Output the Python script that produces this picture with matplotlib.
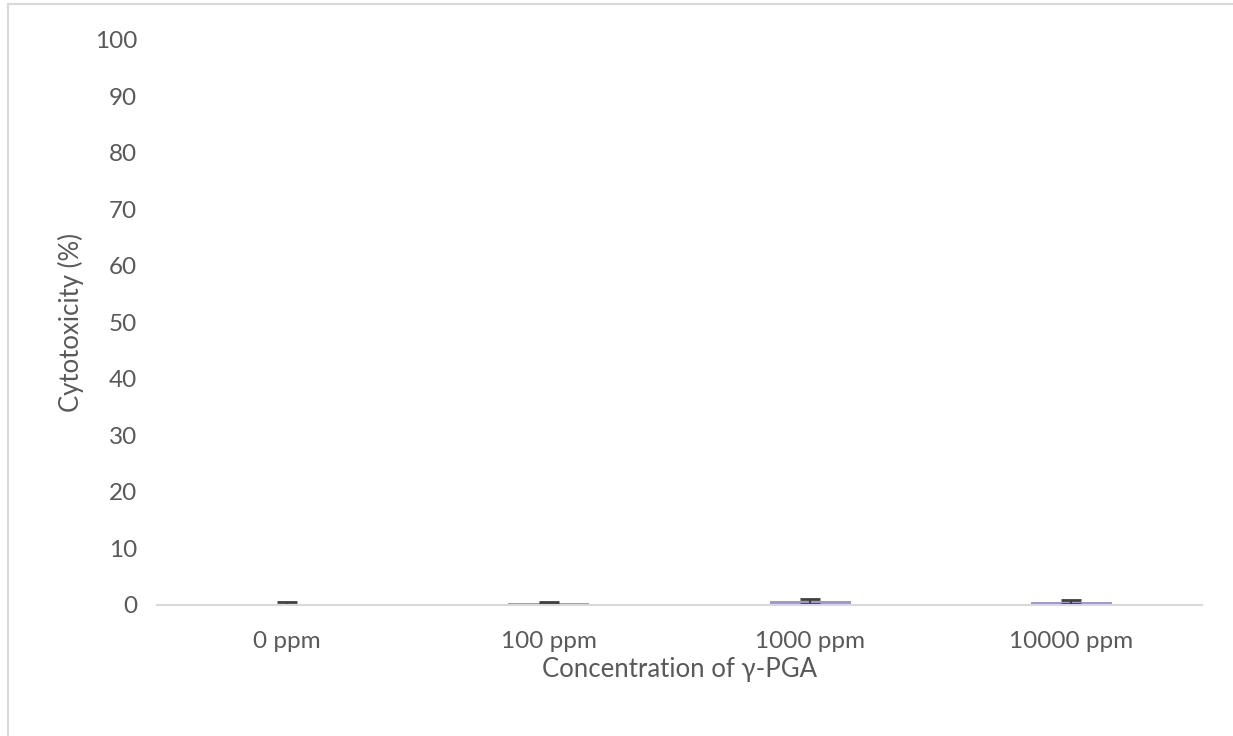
import matplotlib
matplotlib.use('Agg')
import matplotlib.pyplot as plt
from matplotlib.lines import Line2D

plt.rcParams.update({
    'font.family': ['Lato', 'DejaVu Sans'],
    'font.size': 16,
    'text.color': '#595959',
    'xtick.color': '#595959',
    'ytick.color': '#595959',
    'axes.labelcolor': '#595959',
})

categories = ['0 ppm', '100 ppm', '1000 ppm', '10000 ppm']
cytotoxicity = [0.0, 0.4, 0.65, 0.5]
errors = [0.5, 0.2, 0.45, 0.3]
yticks = [0, 10, 20, 30, 40, 50, 60, 70, 80, 90, 100]

fig = plt.figure(figsize=(12.33, 7.36), dpi=100)
ax = fig.add_axes([0.127, 0.178, 0.848, 0.768])

x = range(len(categories))
ax.bar(x, cytotoxicity, width=0.31, color='#9C98D8',
       yerr=errors, error_kw=dict(ecolor='#404040', elinewidth=1.5,
                                  capsize=7, capthick=2))

ax.set_xlim(-0.5, len(categories) - 0.5)
ax.set_ylim(0, 100)
ax.set_yticks(yticks)
ax.set_xticks(list(x))
ax.set_xticklabels(categories)
ax.tick_params(axis='both', length=0, labelsize=17.5)
ax.tick_params(axis='y', pad=14)
ax.tick_params(axis='x', pad=19)

for s in ['top', 'right', 'left']:
    ax.spines[s].set_visible(False)
ax.spines['bottom'].set_color('#d9d9d9')
ax.spines['bottom'].set_linewidth(1.5)

ax.set_xlabel('Concentration of γ-PGA', fontsize=18.5, labelpad=3)
ax.set_ylabel('Cytotoxicity (%)', fontsize=18.5, labelpad=8)

# light frame at top and left of the chart area
fig.add_artist(Line2D([0.0065, 1.0], [0.9945, 0.9945], color='#d9d9d9', lw=1.5))
fig.add_artist(Line2D([0.0065, 0.0065], [0.0, 0.9945], color='#d9d9d9', lw=1.5))

fig.savefig('out.png', dpi=100)
